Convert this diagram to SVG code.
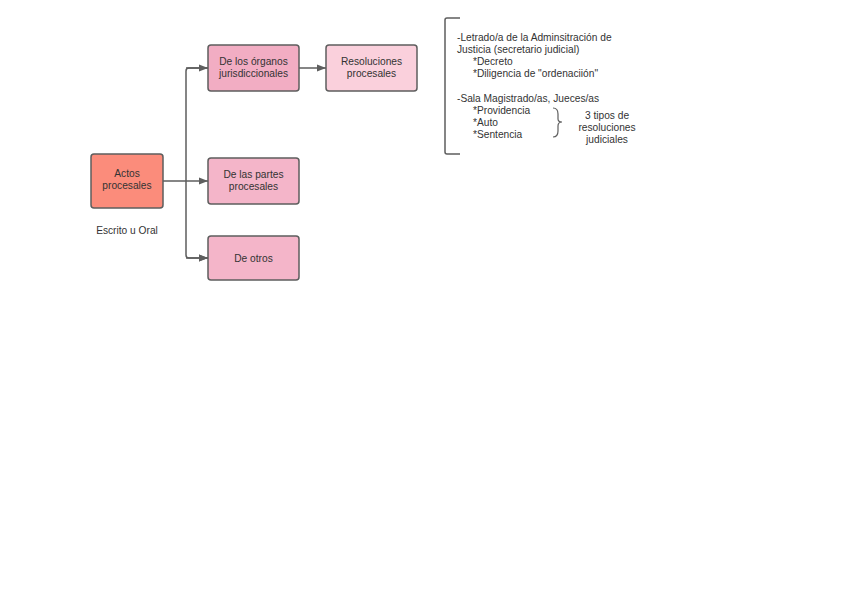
<svg xmlns="http://www.w3.org/2000/svg" width="848" height="599" viewBox="0 0 848 599">
<defs>
<marker id="arr" markerWidth="10" markerHeight="8" refX="9" refY="4" orient="auto" markerUnits="userSpaceOnUse">
<path d="M0,0.5 L9,4 L0,7.5 Z" fill="#5e5e5e"/>
</marker>
<style>
.box{stroke:#5e5e5e;stroke-width:1.5}
.t{font-family:"Liberation Sans",Arial,sans-serif;font-size:10.2px;fill:#333}
.c{text-anchor:middle}
.conn{fill:none;stroke:#5e5e5e;stroke-width:1.5}
</style>
</defs>
<rect width="848" height="599" fill="#ffffff"/>
<g id="connectors">
<path class="conn" d="M163,181 H208" marker-end="url(#arr)"/>
<path class="conn" d="M208,68 H189 Q186,68 186,71 V255 Q186,258 189,258 H208" marker-end="url(#arr)"/>
<path class="conn" d="M186,68 H208" marker-end="url(#arr)"/>
<path class="conn" d="M186,258 H208" marker-end="url(#arr)"/>
<path class="conn" d="M299,68 H326" marker-end="url(#arr)"/>
</g>
<g id="actos">
<rect class="box" x="91" y="154" width="72" height="54" rx="3" fill="#FB8C7B"/>
<text class="t c" x="127" y="177">Actos</text>
<text class="t c" x="127" y="189">procesales</text>
</g>
<g id="escrito">
<text class="t c" x="127" y="234">Escrito u Oral</text>
</g>
<g id="organos">
<rect class="box" x="208" y="45" width="91" height="46" rx="3" fill="#F2ADC3"/>
<text class="t c" x="253.5" y="65">De los órganos</text>
<text class="t c" x="253.5" y="77">jurisdiccionales</text>
</g>
<g id="resoluciones">
<rect class="box" x="326" y="45" width="91" height="46" rx="3" fill="#FAD0DC"/>
<text class="t c" x="371.5" y="65">Resoluciones</text>
<text class="t c" x="371.5" y="77">procesales</text>
</g>
<g id="partes">
<rect class="box" x="208" y="158" width="91" height="46" rx="3" fill="#F4B5C9"/>
<text class="t c" x="253.5" y="178">De las partes</text>
<text class="t c" x="253.5" y="190">procesales</text>
</g>
<g id="otros">
<rect class="box" x="208" y="236" width="91" height="44" rx="3" fill="#F4B5C9"/>
<text class="t c" x="253.5" y="262">De otros</text>
</g>
<g id="notas">
<path d="M460,18 H447 Q445,18 445,20 V152 Q445,154 447,154 H460" fill="none" stroke="#5e5e5e" stroke-width="1.5"/>
<text class="t" x="457" y="41">-Letrado/a de la Adminsitración de</text>
<text class="t" x="457" y="53">Justicia (secretario judicial)</text>
<text class="t" x="473" y="65">*Decreto</text>
<text class="t" x="473" y="77">*Diligencia de "ordenaciión"</text>
<text class="t" x="457" y="102">-Sala Magistrado/as, Jueces/as</text>
<text class="t" x="473" y="114">*Providencia</text>
<text class="t" x="473" y="126">*Auto</text>
<text class="t" x="473" y="138">*Sentencia</text>
<path d="M553,108 Q558,108 558,114 V119 Q558,122 562,122 Q558,122 558,126 V131 Q558,137 553,137" fill="none" stroke="#5e5e5e" stroke-width="1.2"/>
<text class="t c" x="607" y="119">3 tipos de</text>
<text class="t c" x="607" y="131">resoluciones</text>
<text class="t c" x="607" y="143">judiciales</text>
</g>
</svg>
